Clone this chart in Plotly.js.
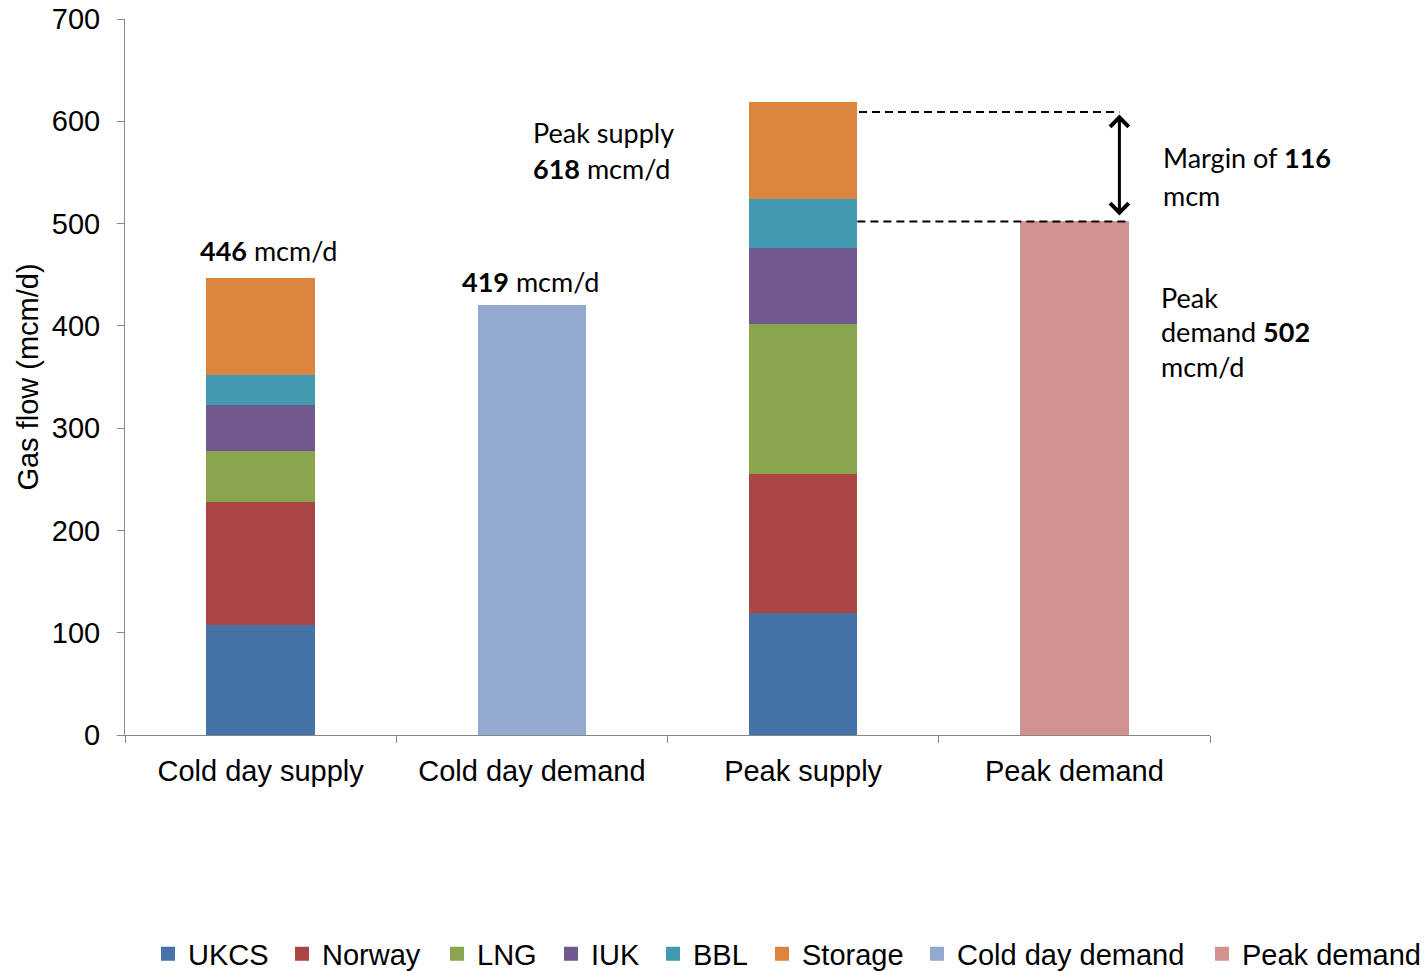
<!DOCTYPE html>
<html>
<head>
<meta charset="utf-8">
<script src="https://cdn.plot.ly/plotly-3.0.1.min.js"></script>
<style>
html,body{margin:0;padding:0;background:#fff;}
#chart{width:1428px;height:972px;}
</style>
</head>
<body>
<div id="chart"></div>
<script>
// ---- data ----
const categories = ["Cold day supply", "Cold day demand", "Peak supply", "Peak demand"];
const supplyCats = ["Cold day supply", "Peak supply"];
const ukcs    = [109, 120];
const norway  = [120, 136];
const lng     = [50, 147];
const iuk     = [45, 74];
const bbl     = [29, 48];
const storage = [93, 93];
const coldDayDemand = [419];
const peakDemand    = [502];
const coldSupplyTotal = 446;
const peakSupplyTotal = 618;
const margin = 116;

const colors = {
  "UKCS": "#4572A7", "Norway": "#AA4643", "LNG": "#89A54E", "IUK": "#71588F",
  "BBL": "#4198AF", "Storage": "#DB843D", "Cold day demand": "#93A9CF", "Peak demand": "#D19392"
};

// legend entry text start positions (px) in the picture
const legendTextX = [189, 323, 478, 592, 694, 803, 958, 1243];
const legendNames = ["legend", "legend2", "legend3", "legend4", "legend5", "legend6", "legend7", "legend8"];

function barTrace(name, cats, vals, i) {
  return {type: "bar", name: name, x: cats, y: vals,
          marker: {color: colors[name], line: {color: colors[name], width: 2}},
          width: 0.393, legend: legendNames[i]};
}

const traces = [
  barTrace("UKCS", supplyCats, ukcs, 0),
  barTrace("Norway", supplyCats, norway, 1),
  barTrace("LNG", supplyCats, lng, 2),
  barTrace("IUK", supplyCats, iuk, 3),
  barTrace("BBL", supplyCats, bbl, 4),
  barTrace("Storage", supplyCats, storage, 5),
  barTrace("Cold day demand", [categories[1]], coldDayDemand, 6),
  barTrace("Peak demand", [categories[3]], peakDemand, 7)
];

const annFont = {family: "Lato, 'Open Sans', sans-serif", size: 27, color: "#000"};
function note(text, x, y, anchor) {
  return {text: text, x: x, y: y, xref: "x", yref: "y", showarrow: false,
          xanchor: anchor || "left", yanchor: "middle", font: annFont};
}

const annotations = [
  note("<b>" + coldSupplyTotal + "</b> mcm/d", 0.03, 474, "center"),
  note("<b>" + coldDayDemand[0] + "</b> mcm/d", 0.995, 443, "center"),
  note("Peak supply", 0.995, 589, "left"),
  note("<b>" + peakSupplyTotal + "</b> mcm/d", 0.995, 554, "left"),
  note("Margin of <b>" + margin + "</b>", 3.32, 565, "left"),
  note("mcm", 3.32, 527, "left"),
  note("Peak", 3.313, 428, "left"),
  note("demand <b>" + peakDemand[0] + "</b>", 3.313, 394, "left"),
  note("mcm/d", 3.313, 360, "left"),
  // double headed arrow
  {x: 3.166, y: 508, ax: 3.166, ay: 608, xref: "x", yref: "y", axref: "x", ayref: "y",
   showarrow: true, arrowhead: 4, startarrowhead: 4, arrowside: "end+start",
   arrowwidth: 3, arrowsize: 1.2, startarrowsize: 1.2, arrowcolor: "#000", text: ""}
];

const shapes = [
  {type: "line", xref: "x", yref: "y", x0: 2.206, x1: 3.166, y0: 609, y1: 609,
   line: {color: "#000", width: 2, dash: "8px,5px"}},
  {type: "line", xref: "x", yref: "y", x0: 2.2, x1: 3.195, y0: 502, y1: 502,
   line: {color: "#000", width: 2, dash: "8px,5px"}}
];

const layout = {
  width: 1428, height: 972,
  margin: {l: 125, r: 218, t: 19, b: 237, autoexpand: false},
  paper_bgcolor: "#fff", plot_bgcolor: "#fff",
  barmode: "stack",
  font: {family: "'Liberation Sans', Arial, sans-serif", size: 29, color: "#000"},
  xaxis: {type: "category", categoryorder: "array", categoryarray: categories,
          range: [-0.5, 3.5], showline: true, linecolor: "#868686", linewidth: 1,
          ticks: "outside", tickson: "boundaries", ticklen: 7, tickcolor: "#868686",
          ticklabelstandoff: 10,
          tickfont: {size: 29}, showgrid: false, zeroline: false, automargin: false},
  yaxis: {range: [0, 700], dtick: 100, tick0: 0, showline: true, linecolor: "#868686",
          linewidth: 1, ticks: "outside", ticklen: 7, tickcolor: "#868686",
          ticklabelstandoff: 11,
          tickfont: {size: 29}, showgrid: false, zeroline: false, automargin: false,
          title: {text: "Gas flow (mcm/d)", font: {size: 29}, standoff: 4}},
  annotations: annotations,
  shapes: shapes,
  showlegend: true
};

legendNames.forEach(function (ln, i) {
  layout[ln] = {orientation: "h", xref: "container", yref: "container",
                x: (legendTextX[i] - 41) / 1428, xanchor: "left",
                y: 18 / 972, yanchor: "middle",
                font: {size: 29}, bgcolor: "rgba(0,0,0,0)", itemclick: false};
});

Plotly.newPlot("chart", traces, layout, {displayModeBar: false, staticPlot: true});
</script>
</body>
</html>
